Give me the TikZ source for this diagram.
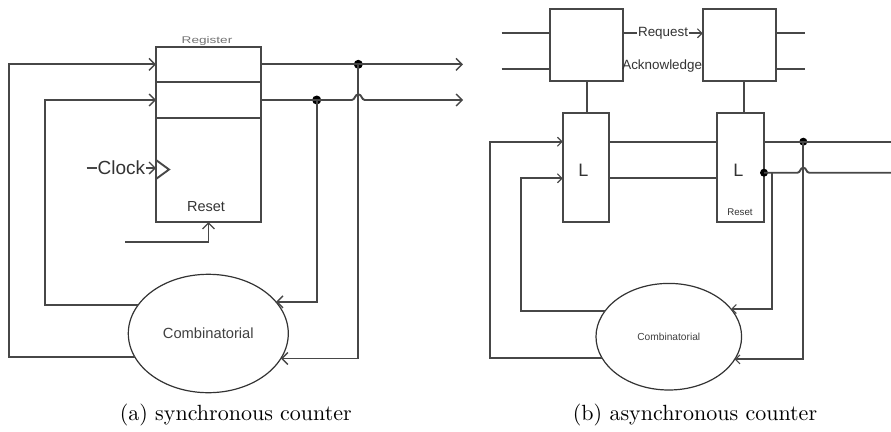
\documentclass[tikz,border=0pt]{standalone}
\usepackage{fontspec}
\setsansfont{Liberation Sans}
\usetikzlibrary{arrows.meta,shapes.geometric}
\begin{document}
\begin{tikzpicture}[x=1pt,y=-1pt,
  wire/.style={draw=black!72, line width=1.9pt},
  arrA/.style={wire, -{Straight Barb[length=6pt,width=12pt,line width=1.4pt]}},
  arrB/.style={wire, -{Straight Barb[length=4.5pt,width=9pt,line width=1.1pt]}},
  box/.style={draw=black!72, line width=1.9pt, rectangle, inner sep=0pt, outer sep=0pt},
  comb/.style={draw=black!80, line width=1.2pt, ellipse, inner sep=0pt, outer sep=0pt},
  lbl/.style={font=\sffamily\fontsize{#1}{#1}\selectfont, text=black!80, inner sep=0pt},
  dot/.style={circle, fill=black, inner sep=0pt, minimum size=9pt},
  captext/.style={font=\fontsize{10}{12}\selectfont, inner sep=0pt}
]
\useasboundingbox (0,0) rectangle (891,431);

% ---------------- (a) synchronous counter ----------------
\node[box, minimum width=105pt, minimum height=175pt] (reg) at (208.5,134.5) {};
\draw[wire] (reg.west |- 0,82.3) -- (reg.east |- 0,82.3);
\draw[wire] (reg.west |- 0,117.7) -- (reg.east |- 0,117.7);
\node[lbl=9.7, text=black!55] (reglbl) at (207,40.5) {\scalebox{1.4}[1]{Register}};

% clock
\coordinate (clkin) at (86.7,168);
\draw[arrA] (clkin) -- (reg.west |- clkin)
  node[midway, lbl=19, fill=white, inner sep=1pt] (clk) {Clock};
\draw[wire] (reg.west |- 0,160) -- (169,169.5) -- (reg.west |- 0,179);

% reset
\node[lbl=14.5] (rstA) at (206,206.7) {Reset};
\coordinate (rstin) at (125,242.3);
\draw[arrA] (rstin) -| (reg.south);

% combinatorial
\node[comb, minimum width=160pt, minimum height=118.4pt, lbl=14.7, text=black!75] (combA) at (208.3,333.5) {Combinatorial};

% feedback into register
\draw[arrA] (combA.198.3) -| (9.3,64.3) -- (reg.west |- 0,64.3);
\draw[arrA] (combA.158.5) -| (45,100) -- (reg.west |- 0,100);

% outputs
\coordinate (o1) at (463,64.3);
\coordinate (o2) at (463,100);
\node[dot] (d1) at (358.3,64.3) {};
\node[dot] (d2) at (316.7,100) {};
\draw[arrA] (reg.east |- o1) -- (o1);
\draw[arrA] (reg.east |- o2) -- (351.8,100)
  .. controls (355,100) and (354.8,94.3) .. (358.3,94.3)
  .. controls (361.8,94.3) and (361.6,100) .. (364.8,100) -- (o2);
\draw[arrA] (d1.center) |- (combA.341.7);
\draw[arrA] (d2.center) |- (combA.25.2);

\node[captext] (capA) at (235.8,415) {\scalebox{2.2}{(a) synchronous counter}};

% ---------------- (b) asynchronous counter ----------------
\node[box, minimum width=73.3pt, minimum height=71.7pt] (topL) at (586.7,44.9) {};
\node[box, minimum width=73pt, minimum height=72pt] (topR) at (739.2,45) {};
\coordinate (i1) at (501.7,33.3);
\coordinate (i2) at (501.7,69.3);
\draw[wire] (i1) -- (topL.west |- i1);
\draw[wire] (i2) -- (topL.west |- i2);
\coordinate (e1) at (805,33.3);
\coordinate (e2) at (805,69.3);
\draw[wire] (topR.east |- e1) -- (e1);
\draw[wire] (topR.east |- e2) -- (e2);
\draw[arrB] (topL.east |- 0,33.3) -- (topR.west |- 0,33.3)
  node[midway, lbl=13.4, fill=white, inner sep=1pt] (req) {Request};
\node[lbl=13.4] (ack) at (662.2,66.5) {Acknowledge};

\node[box, minimum width=46.3pt, minimum height=108.4pt] (LL) at (585.85,167.5) {};
\node[box, minimum width=46.7pt, minimum height=108.4pt] (LR) at (740.65,167.5) {};
\node[lbl=18] (LLt) at (583.3,170) {L};
\node[lbl=18] (LRt) at (738.3,170) {L};
\node[lbl=9.7] (rstB) at (740,212.3) {Reset};

\draw[wire] (topL.south) -- (topL.south |- LL.north);
\draw[wire] (topR.south -| 744.3,0) -- (LR.north -| 744.3,0);
\draw[wire] (LL.east |- 0,141.7) -- (LR.west |- 0,141.7);
\draw[wire] (LL.east |- 0,178.3) -- (LR.west |- 0,178.3);

\node[comb, minimum width=145.6pt, minimum height=106.6pt, lbl=10.2, text=black!75] (combB) at (668.8,336.7) {Combinatorial};

\draw[arrB] (combB.198.6) -| (490,141.7) -- (LL.west |- 0,141.7);
\draw[arrB] (combB.158.1) -| (521,178.3) -- (LL.west |- 0,178.3);

\node[dot, minimum size=8pt] (d3) at (803.3,141.7) {};
\node[dot, minimum size=8pt] (d4) at (LR.east |- 0,172.7) {};
\coordinate (f1) at (891,141.7);
\coordinate (f2) at (891,172.7);
\coordinate (t4) at (772.3,172.7);
\draw[wire] (LR.east |- f1) -- (f1);
\draw[wire] (d4.center) -- (797.5,172.7)
  .. controls (800.5,172.7) and (800,167.7) .. (803.3,167.7)
  .. controls (806.6,167.7) and (806.1,172.7) .. (809.1,172.7) -- (f2);
\draw[arrB] (d3.center) |- (combB.341.4);
\draw[arrB] (t4) |- (combB.24);

\node[captext] (capB) at (695,415) {\scalebox{2.2}{(b) asynchronous counter}};
\end{tikzpicture}
\end{document}
